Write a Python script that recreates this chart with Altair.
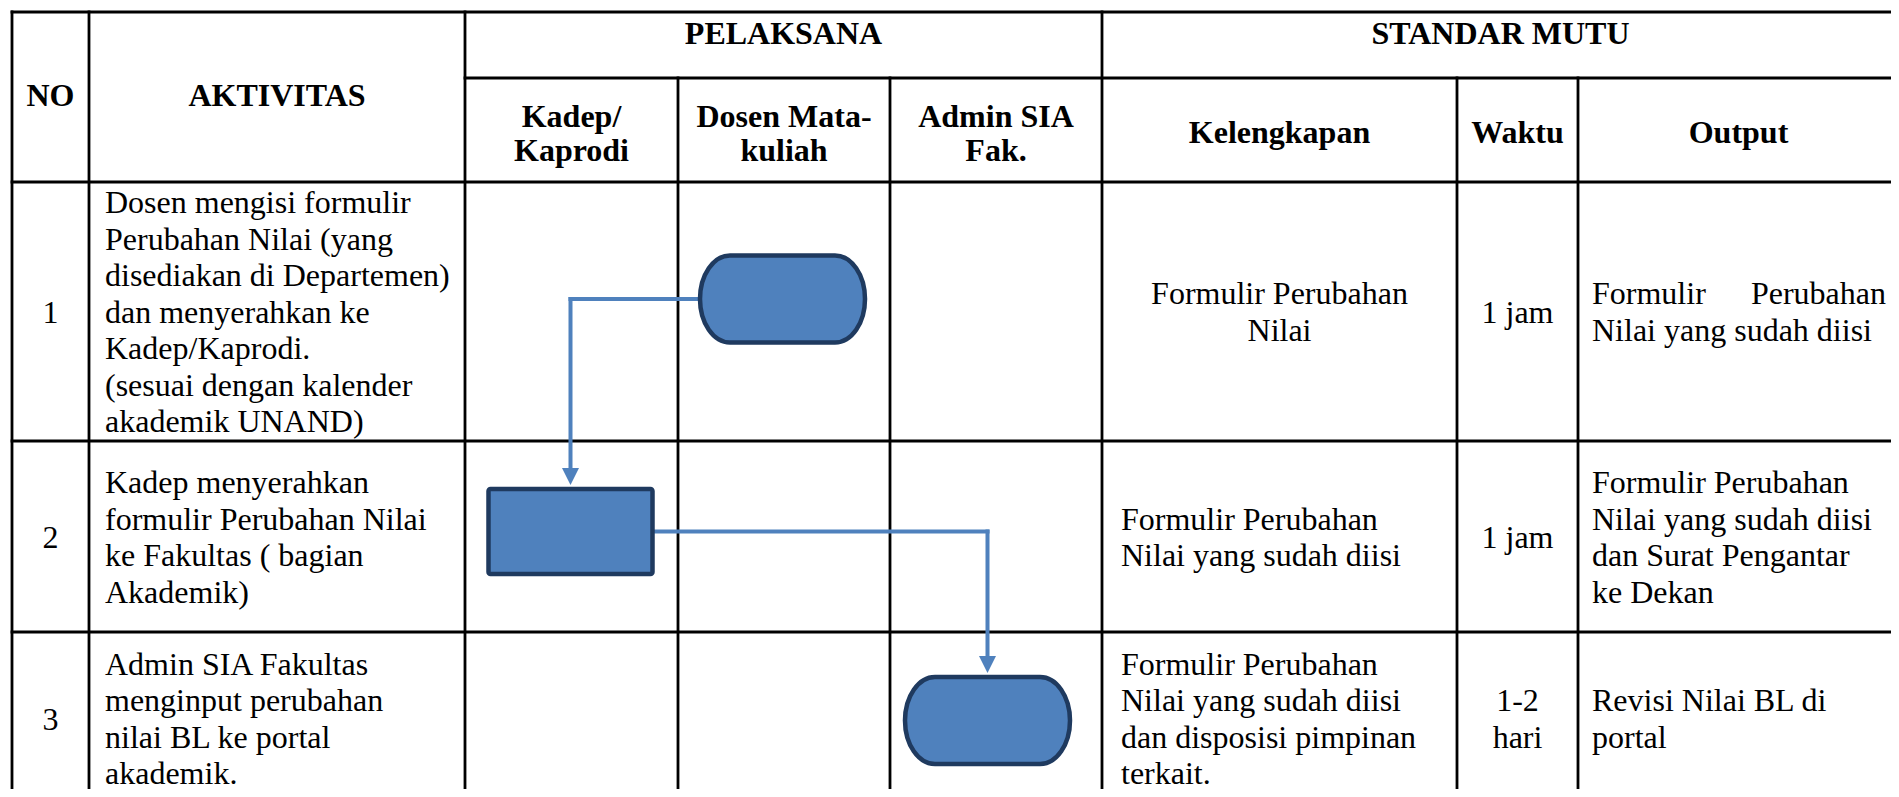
import altair as alt
import pandas as pd

# ---------------- table content ----------------
GROUP_HEADERS = ["PELAKSANA", "STANDAR MUTU"]
COLUMN_HEADERS = ["NO", "AKTIVITAS", "Kadep/\nKaprodi", "Dosen Mata-\nkuliah",
                  "Admin SIA\nFak.", "Kelengkapan", "Waktu", "Output"]
NO = ["1", "2", "3"]
AKTIVITAS = [
    "Dosen mengisi formulir\nPerubahan Nilai (yang\ndisediakan di Departemen)\n"
    "dan menyerahkan ke\nKadep/Kaprodi.\n(sesuai dengan kalender\nakademik UNAND)",
    "Kadep menyerahkan\nformulir Perubahan Nilai\nke Fakultas ( bagian\nAkademik)",
    "Admin SIA Fakultas\nmenginput perubahan\nnilai BL ke portal\nakademik.",
]
KELENGKAPAN = [
    "Formulir Perubahan\nNilai",
    "Formulir Perubahan\nNilai yang sudah diisi",
    "Formulir Perubahan\nNilai yang sudah diisi\ndan disposisi pimpinan\nterkait.",
]
WAKTU = ["1 jam", "1 jam", "1-2\nhari"]
OUTPUT = [
    "Formulir Perubahan\nNilai yang sudah diisi",
    "Formulir Perubahan\nNilai yang sudah diisi\ndan Surat Pengantar\nke Dekan",
    "Revisi Nilai BL di\nportal",
]
SHAPE_KIND = ["terminator", "process", "terminator"]   # one flow step per row

# ---------------- layout (page pixels) ----------------
COL_EDGES = [12, 89, 465, 678, 890, 1102, 1457, 1578, 1899]
ROW_EDGES = [12, 78, 182, 441, 632, 797]
ROW_TEXT_Y = [312.5, 538, 719.5]
LH = 36.5
FONT = "'Liberation Serif', 'Times New Roman', Times, serif"
FS = 32
FILL = "#4F81BD"
EDGE = "#1F3A5F"

# grid lines
lines = []
full_top, sub_top, bottom, right = ROW_EDGES[0], ROW_EDGES[1], ROW_EDGES[-1], COL_EDGES[-1]
for y in [ROW_EDGES[0], ROW_EDGES[2], ROW_EDGES[3], ROW_EDGES[4]]:
    lines.append(dict(x=COL_EDGES[0], x2=right, y=y, y2=y))
lines.append(dict(x=COL_EDGES[2], x2=right, y=sub_top, y2=sub_top))
for i, x in enumerate(COL_EDGES[:-1]):
    top = full_top if i in (0, 1, 2, 5) else sub_top
    lines.append(dict(x=x, x2=x, y=top, y2=bottom))
grid_df = pd.DataFrame(lines)

# text items
items = []


def block(text, x, yc, align, weight="normal", lh=LH):
    parts = text.split("\n")
    n = len(parts)
    for i, t in enumerate(parts):
        items.append(dict(t=t, x=x, y=yc + (i - (n - 1) / 2) * lh, al=align, wt=weight))


def mid(a, b):
    return (COL_EDGES[a] + COL_EDGES[b]) / 2


block(GROUP_HEADERS[0], mid(2, 5), 34, "center", "bold")
block(GROUP_HEADERS[1], mid(5, 8), 34, "center", "bold")
block(COLUMN_HEADERS[0], mid(0, 1), 96, "center", "bold")
block(COLUMN_HEADERS[1], mid(1, 2), 96, "center", "bold")
for k in range(3):
    block(COLUMN_HEADERS[2 + k], mid(2 + k, 3 + k), 134, "center", "bold", lh=34)
for k in range(3):
    block(COLUMN_HEADERS[5 + k], mid(5 + k, 6 + k), 133, "center", "bold")

for r in range(3):
    yc = ROW_TEXT_Y[r]
    block(NO[r], mid(0, 1), yc, "center")
    block(AKTIVITAS[r], COL_EDGES[1] + 16, yc, "left")
    if r == 0:
        block(KELENGKAPAN[r], mid(5, 6), yc, "center", lh=36.7)
    else:
        block(KELENGKAPAN[r], COL_EDGES[5] + 19, yc, "left")
    block(WAKTU[r], mid(6, 7), yc, "center")
    if r == 0:
        # justified first line: words pushed to both cell edges
        first, second = OUTPUT[r].split("\n")
        w1, w2 = first.split(" ")
        y1 = yc - 36.7 / 2
        items.append(dict(t=w1, x=COL_EDGES[7] + 14, y=y1, al="left", wt="normal"))
        items.append(dict(t=w2, x=COL_EDGES[8] - 13, y=y1, al="right", wt="normal"))
        items.append(dict(t=second, x=COL_EDGES[7] + 14, y=yc + 36.7 / 2, al="left", wt="normal"))
    else:
        block(OUTPUT[r], COL_EDGES[7] + 14, yc, "left")
text_df = pd.DataFrame(items)

# flow shapes (center, path width/height)
shapes = pd.DataFrame([
    dict(kind=SHAPE_KIND[0], cx=782.5, cy=299.0, w=165, h=87),
    dict(kind=SHAPE_KIND[1], cx=570.5, cy=531.5, w=164, h=85),
    dict(kind=SHAPE_KIND[2], cx=987.5, cy=720.5, w=165, h=87),
])
shapes["x"] = shapes["cx"] - shapes["w"] / 2
shapes["x2"] = shapes["cx"] + shapes["w"] / 2
shapes["y"] = shapes["cy"] - shapes["h"] / 2
shapes["y2"] = shapes["cy"] + shapes["h"] / 2
terms = shapes[shapes["kind"] == "terminator"]
procs = shapes[shapes["kind"] == "process"]

# connectors between consecutive steps
seg, heads = [], []
S = shapes.to_dict("records")
for a, b, side in [(S[0], S[1], "left"), (S[1], S[2], "right")]:
    sx = a["x"] if side == "left" else a["x2"]
    tip = b["y"] - 4
    base = tip - 17
    seg.append(dict(x=sx, x2=b["cx"], y=a["cy"], y2=a["cy"]))
    seg.append(dict(x=b["cx"], x2=b["cx"], y=a["cy"], y2=base + 1))
    heads.append(dict(x=b["cx"], y=tip - 8.5))
seg_df = pd.DataFrame(seg)
head_df = pd.DataFrame(heads)

# ---------------- chart ----------------
W, H = 1883, 781
xs = alt.Scale(domain=[8, 8 + W], nice=False, zero=False)
ys = alt.Scale(domain=[8, 8 + H], nice=False, zero=False, reverse=True)
X = lambda f: alt.X(f, type="quantitative", scale=xs, axis=None)
Y = lambda f: alt.Y(f, type="quantitative", scale=ys, axis=None)

grid = alt.Chart(grid_df).mark_rule(color="black", strokeWidth=2.8, strokeCap="square").encode(
    x=X("x"), x2="x2", y=Y("y"), y2="y2")

conn = alt.Chart(seg_df).mark_rule(color=FILL, strokeWidth=4, strokeCap="square").encode(
    x=X("x"), x2="x2", y=Y("y"), y2="y2")

k = 0.5523
hy = 43.5 / 82.5
rx = 30 / 82.5
a_ = 1 - rx
c_ = a_ + k * rx
STADIUM = (f"M{-a_:.4f},{-hy:.4f}L{a_:.4f},{-hy:.4f}"
           f"C{c_:.4f},{-hy:.4f} 1,{-k*hy:.4f} 1,0"
           f"C1,{k*hy:.4f} {c_:.4f},{hy:.4f} {a_:.4f},{hy:.4f}"
           f"L{-a_:.4f},{hy:.4f}"
           f"C{-c_:.4f},{hy:.4f} -1,{k*hy:.4f} -1,0"
           f"C-1,{-k*hy:.4f} {-c_:.4f},{-hy:.4f} {-a_:.4f},{-hy:.4f}Z")

term_layer = alt.Chart(terms).mark_point(
    shape=STADIUM, size=165 * 165, filled=True, fill=FILL, stroke=EDGE,
    strokeWidth=4.5, opacity=1, fillOpacity=1, strokeOpacity=1).encode(
    x=X("cx"), y=Y("cy"))

proc_layer = alt.Chart(procs).mark_rect(
    fill=FILL, stroke=EDGE, strokeWidth=4.5, cornerRadius=2).encode(
    x=X("x"), x2="x2", y=Y("y"), y2="y2")

head_layer = alt.Chart(head_df).mark_point(
    shape="M-1,-1L1,-1L0,1Z", size=17 * 17, filled=True, fill=FILL, strokeWidth=0,
    opacity=1).encode(x=X("x"), y=Y("y"))

text_layers = []
for al in ["left", "center", "right"]:
    for wt in ["normal", "bold"]:
        sub = text_df[(text_df["al"] == al) & (text_df["wt"] == wt)]
        if len(sub) == 0:
            continue
        text_layers.append(
            alt.Chart(sub).mark_text(font=FONT, fontSize=FS, fontWeight=wt, align=al,
                                     baseline="middle", color="black").encode(
                x=X("x"), y=Y("y"), text="t:N"))

chart = alt.layer(grid, conn, term_layer, proc_layer, head_layer, *text_layers).properties(
    width=W, height=H, autosize=alt.AutoSizeParams(type="none"), padding=0,
    background="white").configure_view(stroke=None)

chart.save("out.html", embed_options={"renderer": "svg", "actions": False})
